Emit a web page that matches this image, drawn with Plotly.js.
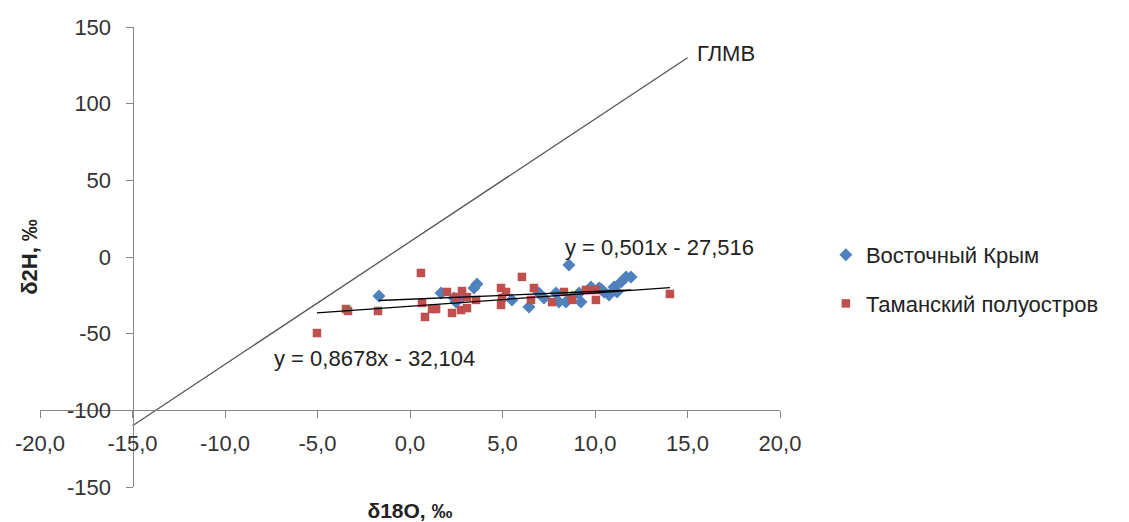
<!DOCTYPE html>
<html>
<head>
<meta charset="utf-8">
<script src="https://cdn.plot.ly/plotly-3.0.1.min.js"></script>
<style>html,body{margin:0;padding:0;background:#fff;}#chart{width:1129px;height:522px;}</style>
</head>
<body>
<div id="chart"></div>
<script>
// --- data ---
const seriesNames = ["Восточный Крым", "Таманский полуостров"];
const crimeaX = [-1.68, 1.68, 2.38, 2.49, 2.81, 3.46, 3.62, 5.51, 6.43, 6.97, 7.24, 7.89, 8.05, 8.43, 8.59, 8.76, 9.14, 9.24, 9.78, 10.22, 10.32, 10.49, 10.76, 11.03, 11.19, 11.41, 11.68, 11.95];
const crimeaY = [-25.4, -23.5, -26.7, -29.4, -26.1, -20.2, -17.6, -28.0, -32.6, -23.5, -26.7, -23.5, -29.4, -29.4, -5.2, -26.1, -23.5, -29.4, -19.6, -20.2, -20.9, -22.8, -24.8, -19.6, -22.8, -16.3, -13.0, -13.0];
const tamanX = [-5.03, -3.46, -3.35, -1.73, 0.59, 0.65, 0.81, 1.19, 1.41, 2.0, 2.27, 2.49, 2.76, 2.81, 3.08, 3.08, 3.57, 4.92, 4.92, 4.97, 5.19, 6.05, 6.54, 6.70, 7.68, 8.32, 8.76, 9.51, 9.78, 10.05, 10.05, 14.05];
const tamanY = [-49.6, -33.9, -35.2, -35.2, -10.4, -30.0, -39.1, -33.9, -33.9, -22.8, -36.5, -26.1, -34.6, -22.2, -26.1, -33.3, -28.0, -20.2, -31.3, -26.7, -22.8, -13.0, -28.0, -20.2, -29.4, -22.8, -28.0, -21.5, -21.5, -28.0, -21.5, -24.1];
// trendline coefficients (as printed on the chart)
const crimeaSlope = 0.501, crimeaIntercept = -27.516;
const tamanSlope = 0.8678, tamanIntercept = -32.104;
const crimeaEqText = "y = 0,501x - 27,516";
const tamanEqText = "y = 0,8678x - 32,104";
// global meteoric water line: δ2H = 8·δ18O + 10
const gmwlSlope = 8, gmwlIntercept = 10;
const gmwlX = [-15, 15];
const gmwlLabel = "ГЛМВ";
const xTitle = "δ18O, ‰";
const yTitle = "δ2H, ‰";
const xTickVals = [-20, -15, -10, -5, 0, 5, 10, 15, 20];
const xTickText = ["-20,0", "-15,0", "-10,0", "-5,0", "0,0", "5,0", "10,0", "15,0", "20,0"];
const yTickVals = [-150, -100, -50, 0, 50, 100, 150];
const yTickText = ["-150", "-100", "-50", "0", "50", "100", "150"];
const xRange = [-20, 20];
const yRange = [-150, 150];
const xCross = -15;   // value where the vertical axis crosses
const yCross = -100;  // value where the horizontal axis crosses

// --- build ---
function lineThrough(xs, m, b) { return xs.map(x => m * x + b); }
const cX = [Math.min(...crimeaX), Math.max(...crimeaX)];
const tX = [Math.min(...tamanX), Math.max(...tamanX)];

const FONT = "Liberation Sans, Arial, sans-serif";
const traces = [
  {x: gmwlX, y: lineThrough(gmwlX, gmwlSlope, gmwlIntercept), mode: "lines", showlegend: false,
   line: {color: "#555555", width: 1.3}, hoverinfo: "skip"},
  {x: crimeaX, y: crimeaY, mode: "markers", name: seriesNames[0], legendgroup: "a",
   marker: {symbol: "diamond", size: 10, color: "#4F81BD"}},
  {x: tamanX, y: tamanY, mode: "markers", name: seriesNames[1], legendgroup: "b",
   marker: {symbol: "square", size: 8.5, color: "#C0504D"}},
  {x: cX, y: lineThrough(cX, crimeaSlope, crimeaIntercept), mode: "lines", showlegend: false,
   line: {color: "#000000", width: 1.3}, hoverinfo: "skip"},
  {x: tX, y: lineThrough(tX, tamanSlope, tamanIntercept), mode: "lines", showlegend: false,
   line: {color: "#000000", width: 1.3}, hoverinfo: "skip"}
];

const axisCommon = {
  showgrid: false, zeroline: false, showline: true, linecolor: "#868686", linewidth: 1,
  ticks: "outside", tickcolor: "#868686", ticklen: 7, tickwidth: 1,
  tickfont: {family: FONT, size: 22, color: "#333333"}, automargin: false
};

const layout = {
  width: 1129, height: 522,
  margin: {l: 40, r: 349, t: 27, b: 35},
  paper_bgcolor: "#ffffff", plot_bgcolor: "#ffffff",
  separators: ", ",
  font: {family: FONT, size: 22, color: "#222222"},
  xaxis: Object.assign({}, axisCommon, {
    range: xRange, tickmode: "array", tickvals: xTickVals, ticktext: xTickText,
    anchor: "free", position: (yCross - yRange[0]) / (yRange[1] - yRange[0]),
    ticklabelstandoff: 6,
    title: {text: xTitle, font: {family: FONT, size: 21, color: "#222222", weight: "bold"}, standoff: 49}
  }),
  yaxis: Object.assign({}, axisCommon, {
    range: yRange, tickmode: "array", tickvals: yTickVals, ticktext: yTickText,
    anchor: "free", position: (xCross - xRange[0]) / (xRange[1] - xRange[0]),
    ticklabelstandoff: 10,
    title: {text: yTitle, font: {family: FONT, size: 22, color: "#222222", weight: "bold"}, standoff: 22}
  }),
  legend: {
    x: 1.062, xanchor: "left", y: 0.55, yanchor: "top",
    font: {family: FONT, size: 22, color: "#222222"},
    traceorder: "grouped", tracegroupgap: 17, itemsizing: "trace", bgcolor: "rgba(0,0,0,0)"
  },
  annotations: [
    {x: 13.5, y: 5.9, xref: "x", yref: "y", text: crimeaEqText, showarrow: false,
     font: {family: FONT, size: 22, color: "#222222"}},
    {x: -1.9, y: -66.5, xref: "x", yref: "y", text: tamanEqText, showarrow: false,
     font: {family: FONT, size: 22, color: "#222222"}},
    {x: 15.4, y: 133, xref: "x", yref: "y", xanchor: "left", text: gmwlLabel, showarrow: false,
     font: {family: FONT, size: 22, color: "#222222"}}
  ],
  showlegend: true
};

Plotly.newPlot("chart", traces, layout, {staticPlot: true, displayModeBar: false});
</script>
</body>
</html>
